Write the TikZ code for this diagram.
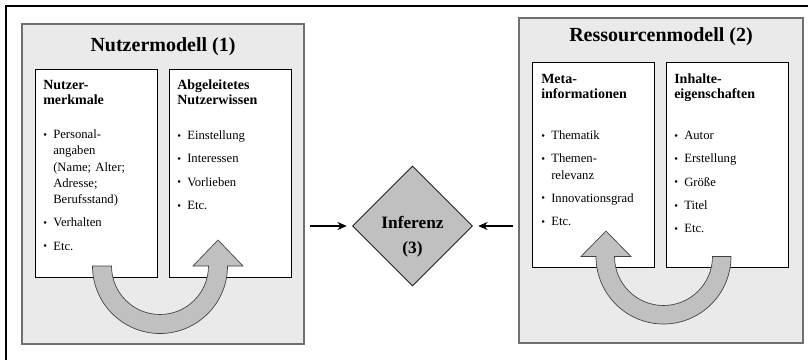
\documentclass[tikz,border=0pt]{standalone}
\usepackage{fontspec}
\setmainfont{Liberation Serif}
\usetikzlibrary{shapes.geometric,arrows.meta,fit}
\definecolor{panelgray}{HTML}{EAEAEA}
\definecolor{panelline}{HTML}{707070}
\definecolor{bandgray}{HTML}{C0C0C0}
\newcommand{\itm}[1]{\par\hangindent=7.5pt\hangafter=1\noindent\hbox to 7.5pt{\raisebox{.1ex}{\footnotesize\textbullet}\hss}#1}
\tikzset{
  panel/.style={draw=panelline,line width=1pt,fill=panelgray,inner sep=0pt},
  innerbox/.style={draw=black,line width=.6pt,fill=white,inner sep=0pt},
  titel/.style={font=\fontsize{15}{18}\selectfont\bfseries,anchor=base},
  hd/.style={font=\fontsize{10.5}{11}\selectfont\bfseries,align=left,anchor=north west,inner sep=0pt},
  liste/.style={font=\fontsize{9.5}{12.2}\selectfont,text width=84pt,align=left,anchor=north west,inner sep=0pt,
    execute at begin node={\setlength{\parskip}{5.3pt}}},
  band/.style={draw=black!75,line width=.5pt,fill=bandgray},
  pfeil/.style={line width=1.2pt,-{Stealth[length=7pt,width=6pt]}}
}
\begin{document}
\begin{tikzpicture}[x=.75pt,y=-.75pt]
\useasboundingbox (0,0) rectangle (808,360);
\fill[white] (0,0) rectangle (808,360);
\draw[line width=1.5pt] (6,360) -- (6,6) -- (808,6);

\node[panel,fit={(22,24) (304,344)}] (nutzer) {};
\node[panel,fit={(519,18) (803,343)}] (ressourcen) {};
\node[titel] (nutzer-titel) at (163,52) {Nutzermodell (1)};
\node[titel] (ressourcen-titel) at (661,42) {Ressourcenmodell (2)};

\node[innerbox,fit={(35,69) (157,277)}] (merkmale) {};
\node[innerbox,fit={(169,69) (291,277)}] (wissen) {};
\node[innerbox,fit={(532,62) (654,267)}] (meta) {};
\node[innerbox,fit={(666,62) (788,267)}] (inhalte) {};

\node[hd] (merkmale-hd) at (43,80) {Nutzer-\\merkmale};
\node[liste] (merkmale-liste) at (43,115) {\itm{Personal-\newline angaben\newline (Name; Alter;\newline Adresse;\newline Berufsstand)}\itm{Verhalten}\itm{Etc.}};
\node[hd] (wissen-hd) at (177,80) {Abgeleitetes\\Nutzerwissen};
\node[liste] (wissen-liste) at (177,116) {\itm{Einstellung}\itm{Interessen}\itm{Vorlieben}\itm{Etc.}};
\node[hd] (meta-hd) at (541,74) {Meta-\\informationen};
\node[liste] (meta-liste) at (541,116) {\itm{Thematik}\itm{Themen-\newline relevanz}\itm{Innovationsgrad}\itm{Etc.}};
\node[hd] (inhalte-hd) at (674,74) {Inhalte-\\eigenschaften};
\node[liste] (inhalte-liste) at (674,116) {\itm{Autor}\itm{Erstellung}\itm{Größe}\itm{Titel}\itm{Etc.}};

\draw[band] (92.5,266) arc[start angle=180,end angle=0,radius=67.5] -- (243,266) -- (218,240) -- (193,266)
  -- (208.5,266) arc[start angle=0,end angle=180,radius=48.5] -- cycle;
\draw[band] (731,256.5) arc[start angle=0,end angle=180,radius=67.5] -- (581,256.5) -- (606,231) -- (631,256.5)
  -- (614.5,256.5) arc[start angle=180,end angle=0,radius=49] -- cycle;

\node[diamond,draw=black,line width=.6pt,fill=bandgray,minimum width=90pt,minimum height=90pt,inner sep=0pt] (inferenz) at (412.5,226) {};
\node[font=\fontsize{13}{18.75}\selectfont\bfseries,align=center,anchor=north,inner sep=0pt] (inferenz-text) at (412.5,216) {Inferenz\\(3)};

\draw[pfeil,shorten <=3.75pt,shorten >=4pt] (nutzer.east |- inferenz.west) -- (inferenz.west);
\draw[pfeil,shorten <=3.75pt,shorten >=4pt] (ressourcen.west |- inferenz.east) -- (inferenz.east);
\end{tikzpicture}
\end{document}
